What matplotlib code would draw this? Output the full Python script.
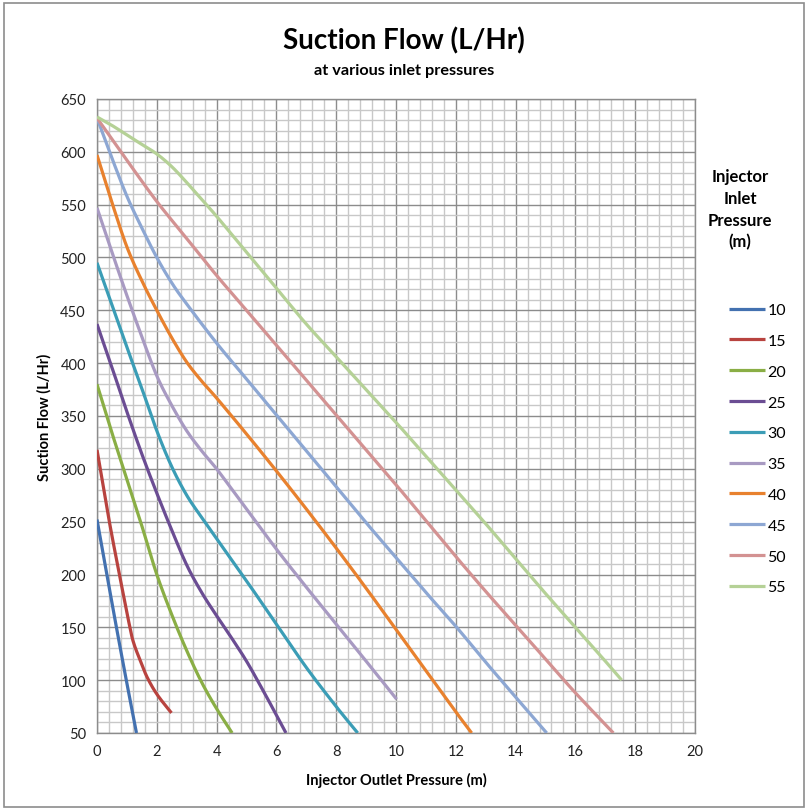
import matplotlib
matplotlib.use("Agg")
from matplotlib import pyplot as plt
from matplotlib.patches import Rectangle
from matplotlib.ticker import MultipleLocator
import numpy as np

plt.rcParams['font.family'] = ['Lato', 'DejaVu Sans']

# inlet pressures (legend) and curves
inlet = [10, 15, 20, 25, 30, 35, 40, 45, 50, 55]

x10 = [0, 0.33, 0.65, 0.98, 1.32]
y10 = [252, 200, 150, 100, 50]

x15 = [0, 0.4, 0.75, 1.1, 1.24, 1.47, 1.69, 2.02, 2.49]
y15 = [318, 252, 200, 150, 134, 117, 102, 86, 69]

x20 = [0, 0.5, 1.0, 1.5, 2.0, 2.5, 3.0, 3.5, 4.0, 4.52]
y20 = [380, 334, 290, 246, 200, 162, 128, 98, 73, 50]

x25 = [0, 0.5, 1.0, 1.5, 2.0, 2.5, 3.0, 3.5, 4.0, 4.5, 5.0, 5.5, 6.0, 6.32]
y25 = [437, 396, 354, 314, 277, 242, 209, 183, 161, 140, 118, 93, 67, 50]

x30 = [0, 0.5, 1.0, 1.5, 2.0, 2.5, 3.0, 3.5, 4.0, 5.0, 6.0, 7.0, 8.0, 8.72]
y30 = [495, 455, 415, 376, 336, 302, 275, 254, 234, 194, 153, 112, 75, 50]

x35 = [0, 0.5, 1.0, 1.5, 2.0, 2.5, 3.0, 3.5, 4.0, 5.0, 6.0, 7.0, 8.0, 9.0, 10.02]
y35 = [547, 505, 464, 425, 388, 360, 336, 317, 300, 262, 224, 188, 153, 118, 82]

x40 = [0, 0.5, 1.0, 1.5, 2.0, 2.5, 3.0, 3.5, 4.0, 5.0, 6.0, 7.0, 8.0, 9.0, 10.0, 11.0, 12.0, 12.53]
y40 = [597, 552, 510, 478, 450, 424, 401, 383, 367, 333, 298, 262, 225, 187, 148, 109, 70, 50]

x45 = [0, 0.5, 1.0, 1.5, 2.0, 2.5, 3.0, 4.0, 5.0, 6.0, 7.0, 8.0, 9.0, 10.0, 11.0, 12.0,
       13.0, 14.0, 15.04]
y45 = [632, 594, 558, 528, 500, 476, 456, 419, 385, 351, 317, 283, 249, 216, 183, 151,
       117, 84, 50]

x50 = [0, 1, 2, 3, 4, 5, 6, 7, 8, 9, 10, 11, 12, 13, 14, 15, 16, 17.27]
y50 = [632, 592, 553, 518, 483, 450, 417, 384, 351, 318, 285, 251, 217, 184, 152, 120, 88, 50]

x55 = [0, 0.5, 1, 1.5, 2, 2.5, 3, 3.5, 4, 5, 6, 7, 8, 9, 10, 11, 12, 13, 14, 15, 16, 17, 17.55]
y55 = [633, 625, 616, 607, 598, 586, 571, 555, 539, 505, 471, 437, 406, 375, 344, 312,
       280, 248, 215, 182, 150, 118, 100]

xs = [x10, x15, x20, x25, x30, x35, x40, x45, x50, x55]
ys = [y10, y15, y20, y25, y30, y35, y40, y45, y50, y55]
colors = ["#4371B0", "#B8433F", "#8AAE45", "#6B4D93", "#3B9DB6",
          "#A89AC2", "#E8812E", "#8DA7D3", "#D39292", "#B5D196"]


def smooth_path(x, y, steps=16):
    # catmull-rom rendering, like excel's "smoothed line" option
    p = np.column_stack([x, y]).astype(float)
    p = np.vstack([p[0], p, p[-1]])
    out = []
    t = np.linspace(0, 1, steps, endpoint=False)[:, None]
    for i in range(1, len(p) - 2):
        p0, p1, p2, p3 = p[i - 1], p[i], p[i + 1], p[i + 2]
        seg = 0.5 * ((2 * p1) + (-p0 + p2) * t + (2 * p0 - 5 * p1 + 4 * p2 - p3) * t ** 2
                     + (-p0 + 3 * p1 - 3 * p2 + p3) * t ** 3)
        out.append(seg)
    out.append(p[-2][None, :])
    out = np.vstack(out)
    return out[:, 0], out[:, 1]


fig = plt.figure(figsize=(8.08, 8.12), dpi=100)
ax = fig.add_axes([97/808, 1-734/812, 598/808, 634/812])

for x, y, c, lab in zip(xs, ys, colors, inlet):
    sx, sy = smooth_path(x, y)
    ax.plot(sx, sy, color=c, lw=2.3, label=str(lab), solid_capstyle='butt',
            solid_joinstyle='round', zorder=3)

ax.set_xlim(0, 20)
ax.set_ylim(50, 650)
ax.xaxis.set_major_locator(MultipleLocator(2))
ax.xaxis.set_minor_locator(MultipleLocator(0.4))
ax.yaxis.set_major_locator(MultipleLocator(50))
ax.yaxis.set_minor_locator(MultipleLocator(10))
ax.grid(which='minor', color='#C8C8C8', lw=1.0, zorder=1)
ax.grid(which='major', color='#8C8C8C', lw=1.0, zorder=2)
ax.set_axisbelow(True)
ax.tick_params(which='both', length=0, labelsize=10.5, colors='#222222', pad=8)
for s in ax.spines.values():
    s.set_color('#8C8C8C')
    s.set_linewidth(1.0)

ax.set_xlabel("Injector Outlet Pressure (m)", fontsize=10.5, fontweight='bold', labelpad=10)
ax.set_ylabel("Suction Flow (L/Hr)", fontsize=10.5, fontweight='bold', labelpad=6)

fig.text(404/808, 1-41/812, "Suction Flow (L/Hr)", ha='center', va='center',
         fontsize=20, fontweight='bold')
fig.text(404/808, 1-71/812, "at various inlet pressures", ha='center', va='center',
         fontsize=11.7, fontweight='bold')

fig.text(740/808, 1-210/812, "Injector\nInlet\nPressure\n(m)", ha='center', va='center',
         fontsize=12, fontweight='bold', linespacing=1.43)

leg = fig.legend(loc='upper left', bbox_to_anchor=(721/808, 1-296/812),
                 frameon=False, fontsize=11.5, handlelength=2.25, handletextpad=0.15,
                 labelspacing=1.04, borderpad=0)

fig.patches.append(Rectangle((4/808, 4/812), 800/808, 804/812, transform=fig.transFigure,
                             fill=False, edgecolor='#8C8C8C', lw=1.2))

fig.savefig("out.png", dpi=100)
